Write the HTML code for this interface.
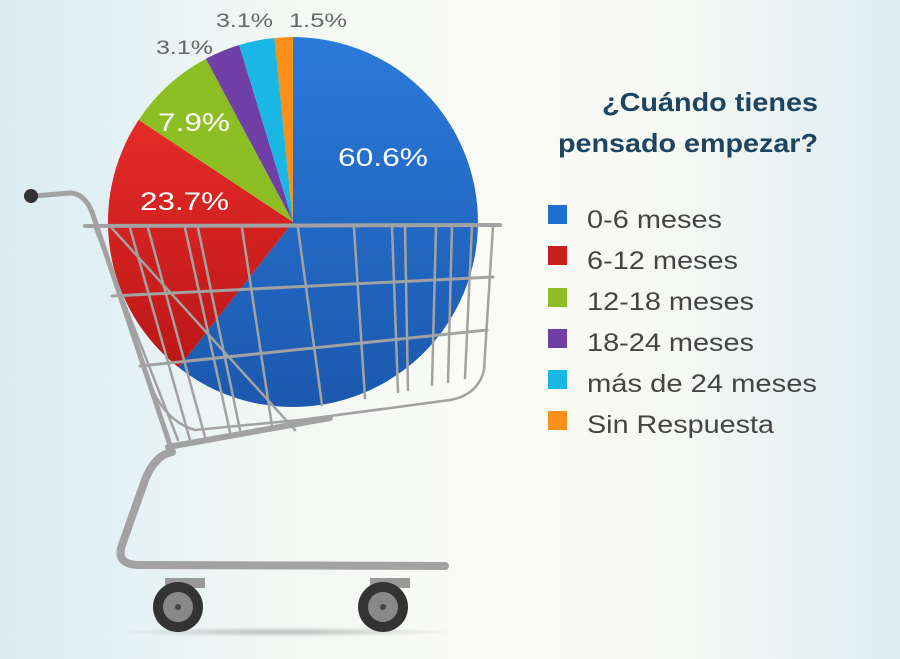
<!DOCTYPE html>
<html><head><meta charset="utf-8"><style>
html,body{margin:0;padding:0;}
body{width:900px;height:659px;overflow:hidden;background:linear-gradient(90deg,#d9ecf2 0%,#f2f7f4 30%,#fbfbf6 55%,#f6f8f4 75%,#deedf1 100%);font-family:"Liberation Sans",sans-serif;position:relative;}
</style></head><body>
<svg width="900" height="659" viewBox="0 0 900 659" style="position:absolute;left:0;top:0">
<defs>
<linearGradient id="gb" x1="0" y1="0" x2="0" y2="1"><stop offset="0" stop-color="#2b7ada"/><stop offset="1" stop-color="#1b58ae"/></linearGradient>
<linearGradient id="gr" x1="0" y1="0" x2="0" y2="1"><stop offset="0" stop-color="#e52b28"/><stop offset="1" stop-color="#bb1717"/></linearGradient>
<radialGradient id="sh"><stop offset="0" stop-color="#999" stop-opacity=".6"/><stop offset="1" stop-color="#999" stop-opacity="0"/></radialGradient>
</defs>
<!-- pie r=185 -->
<path d="M293,222 L293,37 A185,185 0 1 1 178.7,367.5 Z" fill="url(#gb)"/>
<path d="M293,222 L178.7,367.5 A185,185 0 0 1 138.7,119.9 Z" fill="url(#gr)"/>
<path d="M293,222 L138.7,119.9 A185,185 0 0 1 205.9,58.8 Z" fill="#8dbf25"/>
<path d="M293,222 L205.9,58.8 A185,185 0 0 1 239.2,45 Z" fill="#6f3fa6"/>
<path d="M293,222 L239.2,45 A185,185 0 0 1 274.4,38 Z" fill="#1ab7e4"/>
<path d="M293,222 L274.4,38 A185,185 0 0 1 293,37 Z" fill="#f8901a"/>
<g font-family="'Liberation Sans',sans-serif" font-size="25" fill="#fff">
<text x="338" y="166" textLength="90" lengthAdjust="spacingAndGlyphs">60.6%</text>
<text x="140" y="210" textLength="89" lengthAdjust="spacingAndGlyphs">23.7%</text>
<text x="158" y="131" textLength="72" lengthAdjust="spacingAndGlyphs">7.9%</text>
</g>
<g font-family="'Liberation Sans',sans-serif" font-size="19" fill="#666">
<text x="156" y="54" textLength="57" lengthAdjust="spacingAndGlyphs">3.1%</text>
<text x="216" y="27" textLength="57" lengthAdjust="spacingAndGlyphs">3.1%</text>
<text x="289" y="27" textLength="58" lengthAdjust="spacingAndGlyphs">1.5%</text>
</g>
<ellipse cx="285" cy="632" rx="170" ry="5" fill="url(#sh)"/>
<g fill="none" stroke="#a2a2a2" stroke-linecap="round">
<path d="M34,196 L70,193 Q84,193 92,212 L170,445" stroke-width="5"/>
<path d="M95,228 L178,440" stroke-width="2.5"/>
<path d="M85,226 L500,225" stroke-width="4"/>
<path d="M112,296 L493,277" stroke-width="3"/>
<path d="M140,366 L487,330" stroke-width="3"/>
<g stroke-width="2.5">
<path d="M130,228 L190,440"/><path d="M148,228 L205,437"/><path d="M185,228 L230,432"/><path d="M198,228 L240,430"/>
<path d="M242,228 L272,426"/><path d="M298,228 L322,405"/><path d="M354,228 L365,398"/>
<path d="M392,227 L398,392"/><path d="M405,227 L408,390"/><path d="M436,227 L432,385"/><path d="M452,227 L448,382"/><path d="M472,226 L465,378"/>
<path d="M493,226 L484,370 Q478,395 450,400 L300,420"/>
<path d="M110,226 L295,430"/>
<path d="M145,370 Q160,420 195,430 L300,420"/>
</g>
<path d="M168,447 L330,418" stroke-width="6"/>
<path d="M172,452 Q155,455 145,480 L122,545 Q115,565 140,565 L445,566" stroke-width="8"/>
</g>
<circle cx="31" cy="196" r="7" fill="#333"/>
<g>
<rect x="165" y="578" width="40" height="10" fill="#999"/>
<circle cx="178" cy="607" r="25" fill="#333"/><circle cx="178" cy="607" r="15" fill="#888"/><circle cx="178" cy="607" r="3" fill="#444"/>
<rect x="370" y="578" width="40" height="10" fill="#999"/>
<circle cx="383" cy="607" r="25" fill="#333"/><circle cx="383" cy="607" r="15" fill="#888"/><circle cx="383" cy="607" r="3" fill="#444"/>
</g>
<g font-family="'Liberation Sans',sans-serif" font-size="26" font-weight="bold" fill="#1d4460">
<text x="602" y="111" textLength="216" lengthAdjust="spacingAndGlyphs">¿Cuándo tienes</text>
<text x="558" y="152" textLength="260" lengthAdjust="spacingAndGlyphs">pensado empezar?</text>
</g>
<g font-family="'Liberation Sans',sans-serif" font-size="25" fill="#444">
<rect x="548" y="205" width="19" height="19" fill="#1f6fd0"/><text x="587" y="228" textLength="135" lengthAdjust="spacingAndGlyphs">0-6 meses</text>
<rect x="548" y="246" width="19" height="19" fill="#c81e1e"/><text x="587" y="269" textLength="151" lengthAdjust="spacingAndGlyphs">6-12 meses</text>
<rect x="548" y="288" width="19" height="19" fill="#8dbf25"/><text x="587" y="310" textLength="167" lengthAdjust="spacingAndGlyphs">12-18 meses</text>
<rect x="548" y="329" width="19" height="19" fill="#6f3fa6"/><text x="587" y="351" textLength="167" lengthAdjust="spacingAndGlyphs">18-24 meses</text>
<rect x="548" y="370" width="19" height="19" fill="#1ab7e4"/><text x="587" y="392" textLength="230" lengthAdjust="spacingAndGlyphs">más de 24 meses</text>
<rect x="548" y="411" width="19" height="19" fill="#f8901a"/><text x="587" y="433" textLength="187" lengthAdjust="spacingAndGlyphs">Sin Respuesta</text>
</g>
</svg>
</body></html>
